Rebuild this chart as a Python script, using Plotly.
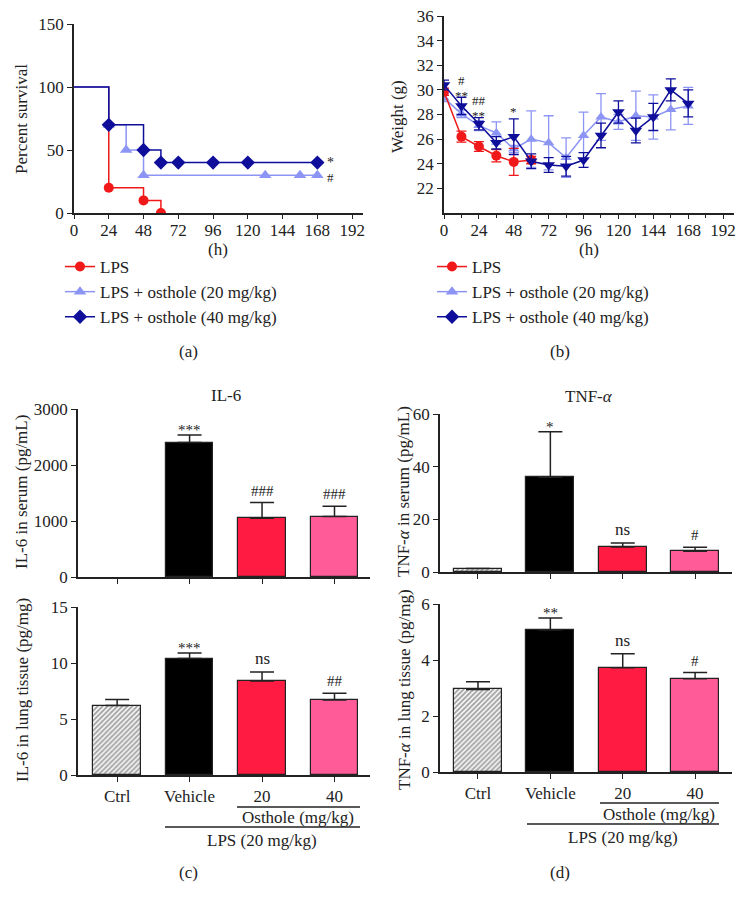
import plotly.graph_objects as go

W, H = 745, 904
FONT = "Liberation Serif"
RED = "#F01818"
LBLUE = "#8C95F4"
DBLUE = "#0E0E9A"
TXT = "#222222"

# ---------------- data ----------------
# (a) survival
surv_t_lps = [0, 24, 48, 60]
surv_lps = [100, 20, 10, 0]
surv_t_20 = [0, 24, 36, 48, 132, 156, 168]
surv_20 = [100, 70, 50, 30, 30, 30, 30]
surv_t_40 = [0, 24, 48, 60, 72, 96, 120, 168]
surv_40 = [100, 70, 50, 40, 40, 40, 40, 40]

# (b) weight
wt_t = [0, 12, 24, 36, 48, 60, 72, 84, 96, 108, 120, 132, 144, 156, 168]
wt_lps = [29.85, 26.2, 25.4, 24.65, 24.15, 24.3]
wt_lps_err = [0.3, 0.45, 0.4, 0.5, 1.1, 0.3]
wt_20 = [29.35, 28.05, 27.1, 26.5, 25.2, 26.0, 25.7, 24.5, 26.3, 27.8, 27.4, 27.9, 27.8, 28.4, 28.7]
wt_20_err = [0.3, 0.3, 0.4, 0.9, 0.3, 2.3, 2.2, 1.6, 1.9, 1.9, 0.6, 2.0, 1.8, 1.65, 1.5]
wt_40 = [30.4, 28.7, 27.25, 25.7, 26.2, 24.2, 23.9, 23.8, 24.3, 26.3, 28.2, 26.7, 27.8, 30.0, 28.9]
wt_40_err = [0.4, 0.7, 0.5, 0.5, 1.45, 0.6, 0.6, 0.8, 0.6, 1.0, 0.9, 1.0, 1.1, 0.9, 1.1]

# (c), (d) bars
cats = ["Ctrl", "Vehicle", "20", "40"]
il6_serum = [None, 2400, 1050, 1080]
il6_serum_err = [0, 135, 280, 185]
il6_lung = [6.2, 10.4, 8.4, 6.7]
il6_lung_err = [0.55, 0.5, 0.8, 0.6]
tnf_serum = [1.3, 36.0, 9.5, 7.9]
tnf_serum_err = [0, 17.3, 1.5, 1.5]
tnf_lung = [2.95, 5.07, 3.72, 3.33]
tnf_lung_err = [0.27, 0.43, 0.5, 0.22]

il6_serum_sig = ["", "***", "###", "###"]
il6_lung_sig = ["", "***", "ns", "##"]
tnf_serum_sig = ["", "*", "ns", "#"]
tnf_lung_sig = ["", "**", "ns", "#"]

time_ticks = [0, 24, 48, 72, 96, 120, 144, 168, 192]
bar_colors = ["#FFFFFF", "#000000", "#FF1B42", "#FF5B98"]
bar_patterns = ["/", "", "", ""]


def X(px):
    return px / W


def Y(py):
    return 1 - py / H


fig = go.Figure()

# ---------------- (a) survival ----------------
series_a = [
    (surv_t_lps, surv_lps, RED, "circle", 10, "LPS"),
    (surv_t_20, surv_20, LBLUE, "triangle-up", 11, "LPS + osthole (20 mg/kg)"),
    (surv_t_40, surv_40, DBLUE, "diamond", 11, "LPS + osthole (40 mg/kg)"),
]
for t, s, c, sym, ms, name in series_a:
    fig.add_trace(go.Scatter(x=t, y=s, mode="lines", line=dict(color=c, width=1.5, shape="hv"),
                             showlegend=False, xaxis="x", yaxis="y", hoverinfo="skip"))
    fig.add_trace(go.Scatter(x=t[1:], y=s[1:], mode="markers",
                             marker=dict(color=c, symbol=sym, size=ms),
                             showlegend=False, xaxis="x", yaxis="y"))
    fig.add_trace(go.Scatter(x=[None], y=[None], mode="lines+markers", name=name,
                             line=dict(color=c, width=1.5), marker=dict(color=c, symbol=sym, size=ms),
                             legend="legend", xaxis="x", yaxis="y"))

# ---------------- (b) weight ----------------
series_b = [
    (wt_t, wt_20, wt_20_err, LBLUE, "triangle-up", 10),
    (wt_t[:len(wt_lps)], wt_lps, wt_lps_err, RED, "circle", 10),
    (wt_t, wt_40, wt_40_err, DBLUE, "triangle-down", 11),
]
for t, v, e, c, sym, ms in series_b:
    fig.add_trace(go.Scatter(x=t, y=v, mode="lines+markers",
                             line=dict(color=c, width=1.5),
                             marker=dict(color=c, symbol=sym, size=ms),
                             error_y=dict(type="data", array=e, color=c, thickness=1.3, width=5),
                             showlegend=False, xaxis="x2", yaxis="y2"))
for name, c, sym in [("LPS", RED, "circle"),
                     ("LPS + osthole (20 mg/kg)", LBLUE, "triangle-up"),
                     ("LPS + osthole (40 mg/kg)", DBLUE, "diamond")]:
    fig.add_trace(go.Scatter(x=[None], y=[None], mode="lines+markers", name=name,
                             line=dict(color=c, width=1.5),
                             marker=dict(color=c, symbol=sym, size=10 if sym == "circle" else 11),
                             legend="legend2", xaxis="x2", yaxis="y2"))

# ---------------- bars ----------------
xpos = list(range(len(cats)))
bar_sets = [
    (il6_serum, il6_serum_err, "x3", "y3"),
    (il6_lung, il6_lung_err, "x4", "y4"),
    (tnf_serum, tnf_serum_err, "x5", "y5"),
    (tnf_lung, tnf_lung_err, "x6", "y6"),
]
for vals, errs, xa, ya in bar_sets:
    fig.add_trace(go.Bar(
        x=xpos, y=vals, width=0.66,
        marker=dict(color=bar_colors, line=dict(color="#222222", width=1.2),
                    pattern=dict(shape=bar_patterns, fgcolor="#111111", bgcolor="#FFFFFF",
                                 size=3.5, solidity=0.55)),
        error_y=dict(type="data", symmetric=False, array=errs, arrayminus=[0] * len(errs),
                     color="#222222", thickness=1.5, width=12),
        showlegend=False, xaxis=xa, yaxis=ya))

# ---------------- axes ----------------
axis_common = dict(showline=True, linecolor="#222222", linewidth=1.5, ticks="outside",
                   ticklen=5, tickwidth=1.3, tickcolor="#222222", showgrid=False, zeroline=False,
                   tickfont=dict(family=FONT, size=17, color=TXT), fixedrange=True, automargin=False)
time_axis = dict(axis_common, ticklen=4, ticklabelstandoff=-3)

layout_axes = dict(
    xaxis=dict(domain=[X(74), X(363)], range=[0, 199.5], tickvals=time_ticks, anchor="y", **time_axis),
    yaxis=dict(domain=[Y(213), Y(24)], range=[0, 150], tickvals=[0, 50, 100, 150], anchor="x", **axis_common),
    xaxis2=dict(domain=[X(444), X(734)], range=[0, 199.5], tickvals=time_ticks, anchor="y2",
                minor=dict(dtick=12, tick0=0, ticks="outside", ticklen=3, tickcolor="#222222"), **time_axis),
    yaxis2=dict(domain=[Y(213), Y(16)], range=[20, 36], tickvals=list(range(22, 37, 2)), anchor="x2", **axis_common),
    xaxis3=dict(domain=[X(78), X(370)], range=[-0.54, 3.49], tickvals=xpos, ticktext=[""] * 4, anchor="y3", **axis_common),
    yaxis3=dict(domain=[Y(577), Y(409)], range=[0, 3000], tickvals=[0, 1000, 2000, 3000], anchor="x3", **axis_common),
    xaxis4=dict(domain=[X(78), X(370)], range=[-0.54, 3.49], tickvals=xpos, ticktext=cats, anchor="y4", **axis_common),
    yaxis4=dict(domain=[Y(775), Y(607)], range=[0, 15], tickvals=[0, 5, 10, 15], anchor="x4", **axis_common),
    xaxis5=dict(domain=[X(440), X(732)], range=[-0.525, 3.51], tickvals=xpos, ticktext=[""] * 4, anchor="y5", **axis_common),
    yaxis5=dict(domain=[Y(572), Y(414)], range=[0, 60], tickvals=[0, 20, 40, 60], anchor="x5", **axis_common),
    xaxis6=dict(domain=[X(440), X(732)], range=[-0.525, 3.51], tickvals=xpos, ticktext=cats, anchor="y6", **axis_common),
    yaxis6=dict(domain=[Y(772), Y(604)], range=[0, 6], tickvals=[0, 2, 4, 6], anchor="x6", **axis_common),
)

annotations = []


def ann(text, x, y, size=17, angle=0, xref="paper", yref="paper", yanchor="middle", yshift=0):
    annotations.append(dict(text=text, x=x, y=y, xref=xref, yref=yref, showarrow=False,
                            textangle=angle, font=dict(family=FONT, size=size, color=TXT),
                            xanchor="center", yanchor=yanchor, yshift=yshift))


# axis titles / labels
ann("Percent survival", X(22), Y(119), angle=-90)
ann("(h)", X(218), Y(249))
ann("Weight (g)", X(397), Y(117), angle=-90)
ann("(h)", X(589), Y(249))
ann("(a)", X(188), Y(351))
ann("(b)", X(560), Y(351))
ann("IL-6", X(226), Y(395))
ann("TNF-<i>α</i>", X(589), Y(397))
ann("IL-6 in serum (pg/mL)", X(22), Y(492), angle=-90)
ann("IL-6 in lung tissue (pg/mg)", X(22), Y(690), angle=-90)
ann("TNF-<i>α</i> in serum (pg/mL)", X(404), Y(492), angle=-90)
ann("TNF-<i>α</i> in lung tissue (pg/mg)", X(404), Y(690), angle=-90)
ann("Osthole (mg/kg)", X(298), Y(817))
ann("LPS (20 mg/kg)", X(262), Y(840))
ann("(c)", X(188), Y(872))
ann("Osthole (mg/kg)", X(659), Y(814))
ann("LPS (20 mg/kg)", X(623), Y(837))
ann("(d)", X(560), Y(872))

# significance marks on (a) and (b)
ann("*", 177, surv_40[-1], size=14, xref="x", yref="y", yshift=0)
ann("#", 177, surv_20[-1], size=13, xref="x", yref="y", yshift=-2)
for t, yv, s in [(12, 30.8, "#"), (12, 29.75, "**"), (24, 29.1, "##"), (24, 28.2, "**"), (48, 28.45, "*")]:
    ann(s, t, yv, size=13, xref="x2", yref="y2", yshift=-3 if "*" in s else 0)

# significance marks above bars (placed just above error bars)
sig_sets = [
    (il6_serum, il6_serum_err, il6_serum_sig, "x3", "y3"),
    (il6_lung, il6_lung_err, il6_lung_sig, "x4", "y4"),
    (tnf_serum, tnf_serum_err, tnf_serum_sig, "x5", "y5"),
    (tnf_lung, tnf_lung_err, tnf_lung_sig, "x6", "y6"),
]
for vals, errs, sigs, xa, ya in sig_sets:
    for i, s in enumerate(sigs):
        if s:
            ann(s, xpos[i], vals[i] + errs[i], size=17 if s == "ns" else 15, xref=xa, yref=ya,
                yanchor="bottom", yshift=(-5 if "*" in s else 2))

shapes = [
    dict(type="line", xref="paper", yref="paper", x0=X(237), x1=X(360), y0=Y(807), y1=Y(807),
         line=dict(color="#222222", width=1.5)),
    dict(type="line", xref="paper", yref="paper", x0=X(165), x1=X(360), y0=Y(827), y1=Y(827),
         line=dict(color="#222222", width=1.5)),
    dict(type="line", xref="paper", yref="paper", x0=X(600), x1=X(719), y0=Y(803), y1=Y(803),
         line=dict(color="#222222", width=1.5)),
    dict(type="line", xref="paper", yref="paper", x0=X(527), x1=X(719), y0=Y(824), y1=Y(824),
         line=dict(color="#222222", width=1.5)),
]

legend_common = dict(font=dict(family=FONT, size=17, color=TXT), bgcolor="rgba(0,0,0,0)",
                     itemwidth=30, tracegroupgap=0, xanchor="left", yanchor="top", itemclick=False)

fig.update_layout(
    width=W, height=H, margin=dict(l=0, r=0, t=0, b=0, pad=0, autoexpand=False),
    paper_bgcolor="white", plot_bgcolor="white",
    font=dict(family=FONT, size=17, color=TXT),
    showlegend=True,
    legend=dict(x=X(60), y=Y(249), **legend_common),
    legend2=dict(x=X(432), y=Y(249), **legend_common),
    annotations=annotations, shapes=shapes, bargap=0,
    **layout_axes,
)

fig.write_html("out.html", config={"displayModeBar": False},
               post_script="document.body.style.margin='0';document.body.style.overflow='hidden';")
